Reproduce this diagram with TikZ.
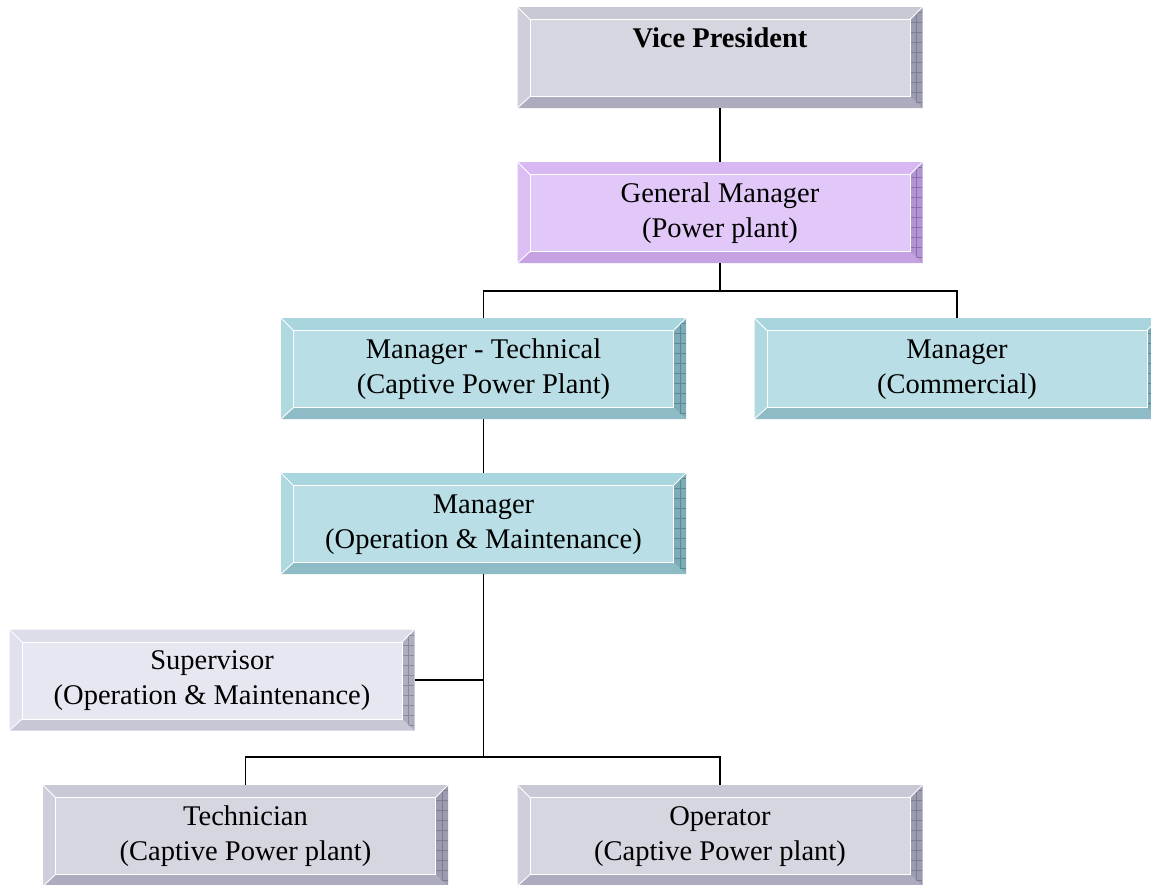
\documentclass[tikz,border=0pt]{standalone}
\usepackage{fontspec}
\setmainfont{Liberation Serif}
% gray set
\definecolor{gF}{HTML}{D6D6E0}\definecolor{gT}{HTML}{C9C9D6}\definecolor{gL}{HTML}{CFCFDB}
\definecolor{gB}{HTML}{ACACBE}\definecolor{gR}{HTML}{9C9CB0}\definecolor{gG}{HTML}{7E7E92}
% purple set
\definecolor{pF}{HTML}{E2C8F8}\definecolor{pT}{HTML}{D8B8F2}\definecolor{pL}{HTML}{DCBEF5}
\definecolor{pB}{HTML}{C6A2E2}\definecolor{pR}{HTML}{B294D2}\definecolor{pG}{HTML}{8C6EAE}
% teal set
\definecolor{tF}{HTML}{B9DEE6}\definecolor{tT}{HTML}{A9D6DE}\definecolor{tL}{HTML}{AFD9E1}
\definecolor{tB}{HTML}{8DBCC6}\definecolor{tR}{HTML}{7DACB6}\definecolor{tG}{HTML}{5A8A94}
% light set
\definecolor{lF}{HTML}{E7E7F1}\definecolor{lT}{HTML}{DDDDE9}\definecolor{lL}{HTML}{E1E1ED}
\definecolor{lB}{HTML}{C7C7D5}\definecolor{lR}{HTML}{AEAEC0}\definecolor{lG}{HTML}{8A8A9C}
\tikzset{
  boxtext/.style={minimum width=405pt, minimum height=101pt, inner sep=0pt,
    align=center, font=\fontsize{28.5}{35}\selectfont, text=black},
  conn/.style={draw=black, line width=1.9pt},
  hl/.style={draw=white, line width=0.9pt}
}
\newcommand{\bevbox}[5]{%
  \begin{scope}[shift={(#2,#3)}]
    \fill[#4T] (-202.5,-50.5) -- (202.5,-50.5) -- (190,-38) -- (-190,-38) -- cycle;
    \fill[#4L] (-202.5,-50.5) -- (-190,-38) -- (-190,39) -- (-202.5,50.5) -- cycle;
    \fill[#4B] (-202.5,50.5) -- (-190,39) -- (190,39) -- (202.5,50.5) -- cycle;
    \fill[#4R] (202.5,-50.5) -- (190,-38) -- (190,39) -- (202.5,50.5) -- cycle;
    \begin{scope}
      \clip (202.5,-50.5) -- (190,-38) -- (190,39) -- (202.5,50.5) -- cycle;
      \foreach \k in {-45,-35,...,45} \draw[#4G, line width=0.5pt] (189,\k) -- (203,\k);
      \draw[#4G, line width=0.5pt] (196.5,-50) -- (196.5,50);
    \end{scope}
    \fill[#4F] (-190,-38) rectangle (190,39);
    \draw[hl] (-190,-38) rectangle (190,39);
    \draw[hl] (-202.5,-50.5) -- (-190,-38);
    \draw[hl] (-202.5,50.5) -- (-190,39);
    \draw[hl] (202.5,-50.5) -- (190,-38);
  \end{scope}
  \node[boxtext] (#1) at (#2,#3) {#5};
}
\begin{document}
\begin{tikzpicture}[x=1pt,y=-1pt]
  \useasboundingbox (0,0) rectangle (1151,884);
  \clip (0,0) rectangle (1151,884);
  \fill[white] (0,0) rectangle (1151,884);

  \bevbox{vp}{720}{57.5}{g}{\strut\textbf{Vice President}\\\strut}
  \bevbox{gm}{720}{212.5}{p}{\strut General Manager\\\strut(Power plant)}
  \bevbox{tech}{483.5}{368.5}{t}{\strut Manager - Technical\\\strut(Captive Power Plant)}
  \bevbox{comm}{957}{368.5}{t}{\strut Manager\\\strut(Commercial)}
  \bevbox{om}{483.5}{523.5}{t}{\strut Manager\\\strut(Operation \& Maintenance)}
  \bevbox{sup}{212}{680}{l}{\strut Supervisor\\\strut(Operation \& Maintenance)}
  \bevbox{techn}{245.5}{835.5}{g}{\strut Technician\\\strut(Captive Power plant)}
  \bevbox{oper}{720}{835.5}{g}{\strut Operator\\\strut(Captive Power plant)}

  \coordinate (j1) at (720,291);
  \coordinate (j2) at (483.5,757);

  \draw[conn] (vp.south) -- (gm.north);
  \draw[conn] (gm.south) -- (j1);
  \draw[conn] (tech.north) -- (tech.north |- j1) -- (comm.north |- j1) -- (comm.north);
  \draw[conn] (tech.south) -- (om.north);
  \draw[conn] (om.south) -- (j2);
  \draw[conn] (sup.east) -- (om.south |- sup.east);
  \draw[conn] (techn.north) -- (techn.north |- j2) -- (oper.north |- j2) -- (oper.north);
\end{tikzpicture}
\end{document}
